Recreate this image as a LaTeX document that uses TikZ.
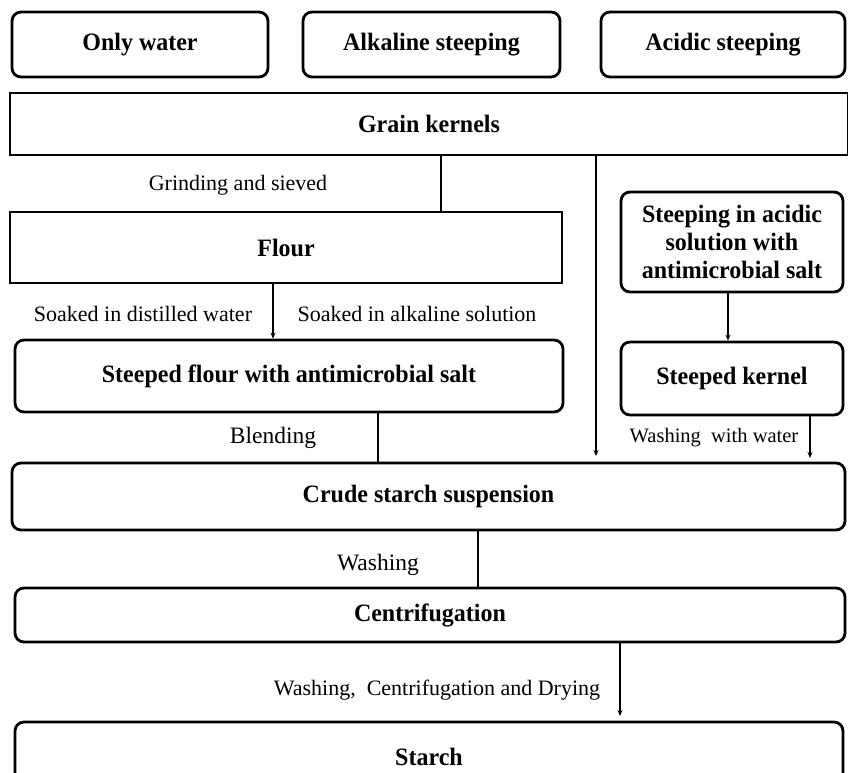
\documentclass[tikz,border=0pt]{standalone}
\usepackage{fontspec}
\setmainfont{Liberation Serif}[BoldFeatures={FakeStretch=0.96}]
\usetikzlibrary{arrows.meta}

\tikzset{
  stepbox/.style={draw, line width=2.8pt, rounded corners=9pt, inner sep=0pt,
    align=center, font=\bfseries\fontsize{25}{28}\selectfont},
  sharpbox/.style={stepbox, sharp corners},
  link/.style={draw, line width=1.8pt},
  flow/.style={link, -{Stealth[length=6pt,width=5pt]}},
  lbl/.style={inner sep=0pt, font=\fontsize{22}{25}\selectfont}
}

\begin{document}
\begin{tikzpicture}[x=1pt,y=-1pt]

  \clip (0,0) rectangle (848,773);

  \begin{scope}[every node/.style={stepbox}]
    \node[minimum width=256, minimum height=65] (water)    at (140,44.5) {Only water};
    \node[minimum width=257, minimum height=65] (alkaline) at (431.5,44.5) {Alkaline steeping};
    \node[minimum width=244, minimum height=65] (acidic)   at (723,44.5) {Acidic steeping};
    \node[sharpbox, minimum width=838, minimum height=62] (grain) at (429,124) {Grain kernels};
    \node[sharpbox, minimum width=552, minimum height=71] (flour) at (286,247.5) {Flour};
    \node[minimum width=222, minimum height=100] (acidsteep) at (732,242)
      {Steeping in acidic\\solution with\\antimicrobial salt};
    \node[minimum width=548, minimum height=72] (steepflour) at (289,376)
      {Steeped flour with antimicrobial salt};
    \node[minimum width=222, minimum height=73] (kernel) at (732,378.5) {Steeped kernel};
    \node[minimum width=833, minimum height=67] (crude)  at (428.5,496.5) {Crude starch suspension};
    \node[minimum width=830, minimum height=54] (centri) at (430,615) {Centrifugation};
    \node[minimum width=828, minimum height=70] (starch) at (429,757) {Starch};
  \end{scope}

  % x positions of the connectors
  \coordinate (xg) at (441,0);
  \coordinate (xf) at (273,0);
  \coordinate (xa) at (596,0);
  \coordinate (xs) at (728,0);
  \coordinate (xb) at (378,0);
  \coordinate (xk) at (810,0);
  \coordinate (xw) at (478,0);
  \coordinate (xd) at (620,0);
  \coordinate (ea) at (596,456);
  \coordinate (ek) at (810,458);
  \coordinate (ed) at (620,716);

  \path[link] (grain.south -| xg) -- (flour.north -| xg);
  \path[flow] (flour.south -| xf) -- (steepflour.north -| xf);
  \path[flow] (grain.south -| xa) -- (ea);
  \path[flow] (acidsteep.south -| xs) -- (kernel.north -| xs);
  \path[link] (steepflour.south -| xb) -- (crude.north -| xb);
  \path[flow] (kernel.south -| xk) -- (ek);
  \path[link] (crude.south -| xw) -- (centri.north -| xw);
  \path[flow] (centri.south -| xd) -- (ed);

  \begin{scope}[every node/.style={lbl}]
    \node (grind)   at (238,185) {Grinding and sieved};
    \node (distil)  at (143,314) {Soaked in distilled water};
    \node (alksol)  at (417,314) {Soaked in alkaline solution};
    \node[font=\fontsize{23.5}{26}\selectfont] (blend) at (273,438) {Blending};
    \node[font=\fontsize{20.5}{24}\selectfont] (washw) at (714,438) {Washing\ \ with water};
    \node[font=\fontsize{23.5}{26}\selectfont] (wash)  at (378,565) {Washing};
    \node (dry)     at (437,690) {Washing,\ \ Centrifugation and Drying};
  \end{scope}

\end{tikzpicture}
\end{document}
